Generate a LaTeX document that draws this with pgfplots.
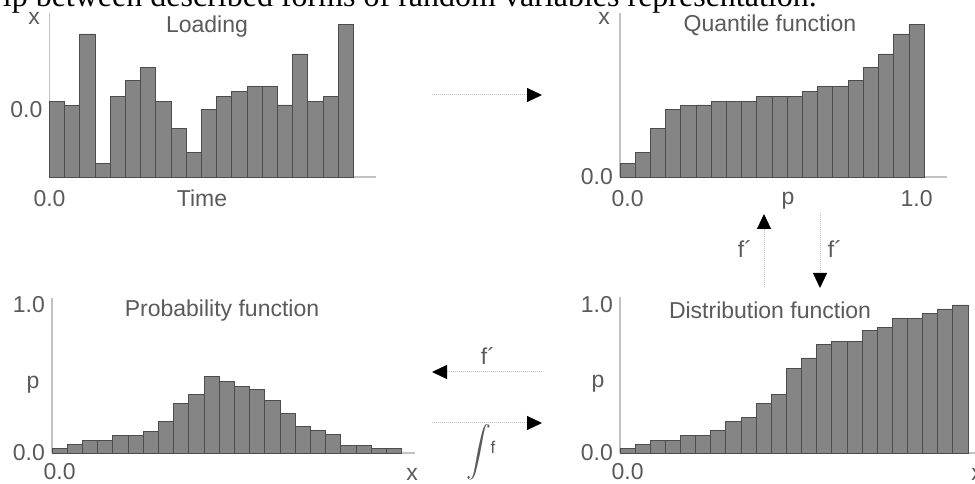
\documentclass[border=0pt]{standalone}
\usepackage{pgfplots}
\pgfplotsset{compat=1.18}
\usepackage{graphicx}
\usepackage{amsmath}
\usepackage{fontspec}
\setmainfont{Liberation Serif}
\newfontfamily\chartfont{Liberation Sans}
\usetikzlibrary{arrows.meta}

\definecolor{bargray}{HTML}{858585}
\definecolor{baredge}{HTML}{4D4D4D}
\definecolor{axisgray}{HTML}{C2C2C2}
\definecolor{labelgray}{HTML}{5A5A5A}
\definecolor{shaftgray}{HTML}{BEBEBE}

\newcommand\cf{\chartfont\fontsize{23}{27}\selectfont}

\pgfplotsset{
  panel/.style={
    scale only axis, anchor=south west,
    axis lines=left,
    axis line style={-, draw=axisgray, line width=1.2pt},
    xmin=0, ymin=0,
    major tick length=0pt,
    tick style={draw=none},
    tick label style={font=\cf, text=labelgray, inner sep=0pt},
    xticklabel style={anchor=base, yshift=-30pt},
    yticklabel style={anchor=east, xshift=-7pt},
    clip=false,
  },
  bars/.style={ybar, bar width=1, fill=bargray, draw=baredge, line width=0.9pt},
}

\begin{document}
\begin{tikzpicture}
\useasboundingbox (0pt,0pt) rectangle (975pt,484pt);
\clip (0pt,0pt) rectangle (975pt,484pt);

% lower-left corners of the four plot areas
\coordinate (A1) at (49.5pt,307pt);
\coordinate (A2) at (620pt,307pt);
\coordinate (A3) at (52pt,31pt);
\coordinate (A4) at (620pt,31pt);

% Loading over time
\begin{axis}[panel, at={(A1)}, width=326.5pt, height=164pt,
  xmax=21.48, ymax=1,
  xtick={0}, xticklabels={0.0},
  ytick={0.411}, yticklabels={0.0}]
\addplot[bars] coordinates {
 (0.5,0.461) (1.5,0.435) (2.5,0.872) (3.5,0.085) (4.5,0.492)
 (5.5,0.587) (6.5,0.669) (7.5,0.461) (8.5,0.295) (9.5,0.150)
 (10.5,0.409) (11.5,0.492) (12.5,0.522) (13.5,0.553) (14.5,0.553)
 (15.5,0.439) (16.5,0.750) (17.5,0.461) (18.5,0.492) (19.5,0.929)};
\end{axis}

% Quantile function (the loading values in ascending order)
\begin{axis}[panel, at={(A2)}, width=327pt, height=164pt,
  xmax=21.5, ymax=1,
  xtick={0.5,19.5}, xticklabels={0.0,1.0},
  ytick={0}, yticklabels={0.0}]
\addplot[bars] coordinates {
 (0.5,0.085) (1.5,0.150) (2.5,0.295) (3.5,0.409) (4.5,0.435)
 (5.5,0.439) (6.5,0.461) (7.5,0.461) (8.5,0.461) (9.5,0.492)
 (10.5,0.492) (11.5,0.492) (12.5,0.522) (13.5,0.553) (14.5,0.553)
 (15.5,0.587) (16.5,0.669) (17.5,0.750) (18.5,0.872) (19.5,0.929)};
\end{axis}

% Probability function
\begin{axis}[panel, at={(A3)}, width=363pt, height=155pt,
  xmax=23.88, ymax=1.047,
  xtick={0.5}, xticklabels={0.0},
  xticklabel style={yshift=3pt},
  ytick={0,1}, yticklabels={0.0,1.0}]
\addplot[bars] coordinates {
 (0.5,0.029) (1.5,0.056) (2.5,0.086) (3.5,0.086) (4.5,0.119)
 (5.5,0.119) (6.5,0.146) (7.5,0.214) (8.5,0.333) (9.5,0.394)
 (10.5,0.518) (11.5,0.484) (12.5,0.450) (13.5,0.428) (14.5,0.356)
 (15.5,0.270) (16.5,0.180) (17.5,0.153) (18.5,0.124) (19.5,0.052)
 (20.5,0.052) (21.5,0.029) (22.5,0.029)};
\end{axis}

% Distribution function
\begin{axis}[panel, at={(A4)}, width=355pt, height=156pt,
  xmax=23.46, ymax=1.054,
  xtick={0.5}, xticklabels={0.0},
  xticklabel style={yshift=3pt},
  ytick={0,1}, yticklabels={0.0,1.0}]
\addplot[bars] coordinates {
 (0.5,0.029) (1.5,0.056) (2.5,0.086) (3.5,0.086) (4.5,0.119)
 (5.5,0.119) (6.5,0.151) (7.5,0.214) (8.5,0.241) (9.5,0.333)
 (10.5,0.394) (11.5,0.574) (12.5,0.642) (13.5,0.732) (14.5,0.755)
 (15.5,0.755) (16.5,0.827) (17.5,0.849) (18.5,0.912) (19.5,0.912)
 (20.5,0.941) (21.5,0.973) (22.5,1.000)};
\end{axis}

% titles, axis names and the transformation arrows (y measured downwards)
\begin{scope}[x=1pt, y=-1pt, shift={(0pt,484pt)},
  lbl/.style={font=\cf, text=labelgray, inner sep=0pt, anchor=base},
  conn/.style={shaftgray, line width=1pt, densely dotted,
    -{Triangle[length=15pt,width=14pt,black]}}]
  \node[anchor=base east, inner sep=0pt, font=\fontsize{32}{36}\selectfont]
    at (817,7) {ip between described forms of random variables representation.};

  \node[lbl] at (207,33) {Loading};
  \node[lbl] at (770,32) {Quantile function};
  \node[lbl] at (222,317) {Probability function};
  \node[lbl] at (770,319) {Distribution function};

  \node[lbl] at (34,25) {x};
  \node[lbl] at (604,25) {x};
  \node[lbl] at (202,207) {Time};
  \node[lbl] at (788,205) {p};
  \node[lbl] at (33,389) {p};
  \node[lbl] at (598,388) {p};
  \node[lbl] at (412,481) {x};
  \node[lbl] at (977,481) {x};

  \draw[conn] (432,95) -- (542,95);
  \draw[conn] (764,287) -- (764,214);
  \draw[conn] (820,213) -- (820,288);
  \draw[conn] (542,372) -- (432,372);
  \draw[conn] (432,423) -- (542,423);

  \node[lbl] at (745,258) {f´};
  \node[lbl] at (835,258) {f´};
  \node[lbl] at (488,365) {f´};
  \node[inner sep=0pt, text=labelgray, anchor=center] at (479,452)
    {\resizebox{!}{34pt}{$\displaystyle\int$}};
  \node[inner sep=0pt, text=labelgray, anchor=base,
    font=\chartfont\fontsize{17}{20}\selectfont] at (493,454) {f};
\end{scope}
\end{tikzpicture}
\end{document}
